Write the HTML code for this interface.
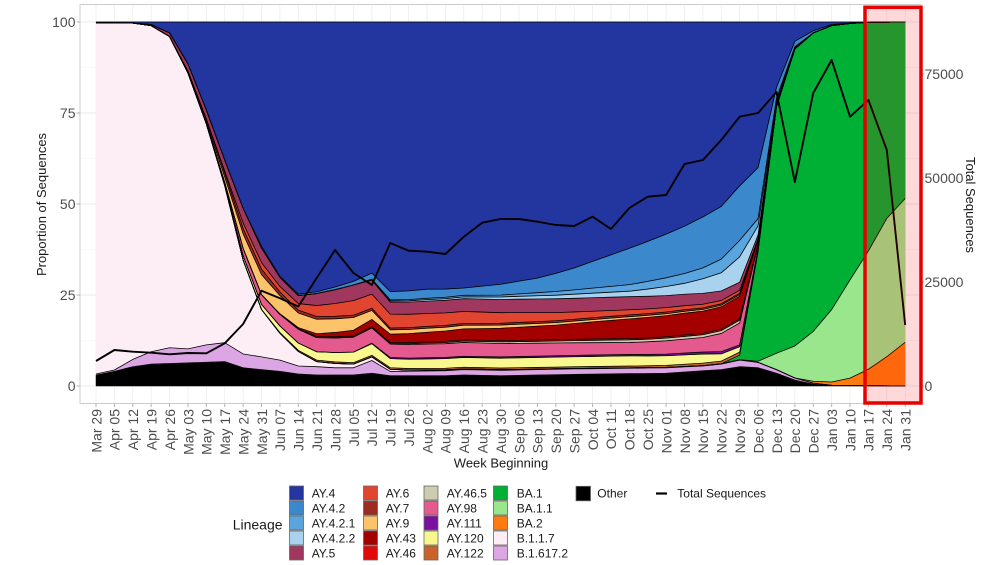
<!DOCTYPE html>
<html>
<head>
<meta charset="utf-8">
<style>
html,body{margin:0;padding:0;background:#fff;}
svg{display:block;font-family:"Liberation Sans",Arial,sans-serif;}
</style>
</head>
<body>
<svg id="c" width="1004" height="565" viewBox="0 0 1004 565" xmlns="http://www.w3.org/2000/svg">
<rect width="1004" height="565" fill="#fff"/>
<g id="grid"></g>
<g id="areas"></g>
<g id="outl" fill="none" stroke="#000" stroke-width="0.8" stroke-linejoin="round"></g>
<polyline id="tot" fill="none" stroke="#000" stroke-width="1.9" stroke-linejoin="round" points=""/>
<rect x="80" y="4.5" width="841" height="399" fill="none" stroke="#cccccc" stroke-width="1"/>
<g id="ticks" stroke="#b3b3b3" stroke-width="1"></g>

<!-- left axis labels -->
<g font-size="14" fill="#4d4d4d" text-anchor="end">
<text x="75.5" y="27">100</text>
<text x="75.5" y="118">75</text>
<text x="75.5" y="209">50</text>
<text x="75.5" y="300">25</text>
<text x="75.5" y="391">0</text>
</g>
<!-- right axis labels -->
<g font-size="14" fill="#4d4d4d">
<text x="924.5" y="79">75000</text>
<text x="924.5" y="183">50000</text>
<text x="924.5" y="287">25000</text>
<text x="924.5" y="391">0</text>
</g>
<!-- titles -->
<text transform="translate(46,204.5) rotate(-90)" text-anchor="middle" font-size="13" fill="#1a1a1a">Proportion of Sequences</text>
<text transform="translate(966,205) rotate(90)" text-anchor="middle" font-size="13" fill="#1a1a1a">Total Sequences</text>
<text x="501" y="467.5" text-anchor="middle" font-size="13" fill="#1a1a1a">Week Beginning</text>

<!-- x labels -->
<g font-size="14" fill="#4d4d4d" text-anchor="end">
<text transform="translate(101.3,409) rotate(-90)">Mar 29</text>
<text transform="translate(119.7,409) rotate(-90)">Apr 05</text>
<text transform="translate(138.1,409) rotate(-90)">Apr 12</text>
<text transform="translate(156.5,409) rotate(-90)">Apr 19</text>
<text transform="translate(174.9,409) rotate(-90)">Apr 26</text>
<text transform="translate(193.3,409) rotate(-90)">May 03</text>
<text transform="translate(211.6,409) rotate(-90)">May 10</text>
<text transform="translate(230.0,409) rotate(-90)">May 17</text>
<text transform="translate(248.4,409) rotate(-90)">May 24</text>
<text transform="translate(266.8,409) rotate(-90)">May 31</text>
<text transform="translate(285.2,409) rotate(-90)">Jun 07</text>
<text transform="translate(303.6,409) rotate(-90)">Jun 14</text>
<text transform="translate(322.0,409) rotate(-90)">Jun 21</text>
<text transform="translate(340.4,409) rotate(-90)">Jun 28</text>
<text transform="translate(358.8,409) rotate(-90)">Jul 05</text>
<text transform="translate(377.2,409) rotate(-90)">Jul 12</text>
<text transform="translate(395.6,409) rotate(-90)">Jul 19</text>
<text transform="translate(413.9,409) rotate(-90)">Jul 26</text>
<text transform="translate(432.3,409) rotate(-90)">Aug 02</text>
<text transform="translate(450.7,409) rotate(-90)">Aug 09</text>
<text transform="translate(469.1,409) rotate(-90)">Aug 16</text>
<text transform="translate(487.5,409) rotate(-90)">Aug 23</text>
<text transform="translate(505.9,409) rotate(-90)">Aug 30</text>
<text transform="translate(524.3,409) rotate(-90)">Sep 06</text>
<text transform="translate(542.7,409) rotate(-90)">Sep 13</text>
<text transform="translate(561.1,409) rotate(-90)">Sep 20</text>
<text transform="translate(579.5,409) rotate(-90)">Sep 27</text>
<text transform="translate(597.9,409) rotate(-90)">Oct 04</text>
<text transform="translate(616.2,409) rotate(-90)">Oct 11</text>
<text transform="translate(634.6,409) rotate(-90)">Oct 18</text>
<text transform="translate(653.0,409) rotate(-90)">Oct 25</text>
<text transform="translate(671.4,409) rotate(-90)">Nov 01</text>
<text transform="translate(689.8,409) rotate(-90)">Nov 08</text>
<text transform="translate(708.2,409) rotate(-90)">Nov 15</text>
<text transform="translate(726.6,409) rotate(-90)">Nov 22</text>
<text transform="translate(745.0,409) rotate(-90)">Nov 29</text>
<text transform="translate(763.4,409) rotate(-90)">Dec 06</text>
<text transform="translate(781.8,409) rotate(-90)">Dec 13</text>
<text transform="translate(800.2,409) rotate(-90)">Dec 20</text>
<text transform="translate(818.5,409) rotate(-90)">Dec 27</text>
<text transform="translate(836.9,409) rotate(-90)">Jan 03</text>
<text transform="translate(855.3,409) rotate(-90)">Jan 10</text>
<text transform="translate(873.7,409) rotate(-90)">Jan 17</text>
<text transform="translate(892.1,409) rotate(-90)">Jan 24</text>
<text transform="translate(910.5,409) rotate(-90)">Jan 31</text>
</g>

<!-- red highlight box -->
<rect x="865" y="7.3" width="56" height="395.7" fill="rgba(255,0,0,0.15)" stroke="#e60000" stroke-width="3.5"/>

<!-- legend -->
<text x="232.7" y="529.7" font-size="14" fill="#1a1a1a">Lineage</text>
<g stroke="#666" stroke-width="0.8">
<rect x="289.5" y="486" width="14" height="14" fill="#2336a0"/>
<rect x="289.5" y="501" width="14" height="14" fill="#3b88cc"/>
<rect x="289.5" y="516" width="14" height="14" fill="#5aa5dd"/>
<rect x="289.5" y="531" width="14" height="14" fill="#a8d2ee"/>
<rect x="289.5" y="546" width="14" height="14" fill="#a0375f"/>
<rect x="363.5" y="486" width="14" height="14" fill="#e2452f"/>
<rect x="363.5" y="501" width="14" height="14" fill="#9c2b22"/>
<rect x="363.5" y="516" width="14" height="14" fill="#fdc36b"/>
<rect x="363.5" y="531" width="14" height="14" fill="#a50000"/>
<rect x="363.5" y="546" width="14" height="14" fill="#e00a0a"/>
<rect x="424" y="486" width="14" height="14" fill="#cfcbb0"/>
<rect x="424" y="501" width="14" height="14" fill="#e45a8e"/>
<rect x="424" y="516" width="14" height="14" fill="#7a0fa0"/>
<rect x="424" y="531" width="14" height="14" fill="#f8f88e"/>
<rect x="424" y="546" width="14" height="14" fill="#c8642a"/>
<rect x="493.5" y="486" width="14" height="14" fill="#00b035"/>
<rect x="493.5" y="501" width="14" height="14" fill="#99e68c"/>
<rect x="493.5" y="516" width="14" height="14" fill="#ff7a10"/>
<rect x="493.5" y="531" width="14" height="14" fill="#fdedf4"/>
<rect x="493.5" y="546" width="14" height="14" fill="#dca5e3"/>
<rect x="576" y="486.3" width="14.5" height="14.5" fill="#000"/>
</g>
<line x1="656" y1="493.5" x2="667" y2="493.5" stroke="#000" stroke-width="2.2"/>
<g font-size="12" fill="#1a1a1a">
<text x="311.7" y="497.3">AY.4</text>
<text x="311.7" y="512.3">AY.4.2</text>
<text x="311.7" y="527.3">AY.4.2.1</text>
<text x="311.7" y="542.3">AY.4.2.2</text>
<text x="311.7" y="557.3">AY.5</text>
<text x="385.7" y="497.3">AY.6</text>
<text x="385.7" y="512.3">AY.7</text>
<text x="385.7" y="527.3">AY.9</text>
<text x="385.7" y="542.3">AY.43</text>
<text x="385.7" y="557.3">AY.46</text>
<text x="446.7" y="497.3">AY.46.5</text>
<text x="446.7" y="512.3">AY.98</text>
<text x="446.7" y="527.3">AY.111</text>
<text x="446.7" y="542.3">AY.120</text>
<text x="446.7" y="557.3">AY.122</text>
<text x="516.7" y="497.3">BA.1</text>
<text x="516.7" y="512.3">BA.1.1</text>
<text x="516.7" y="527.3">BA.2</text>
<text x="516.7" y="542.3">B.1.1.7</text>
<text x="516.7" y="557.3">B.1.617.2</text>
<text x="597.3" y="497.5">Other</text>
<text x="677.3" y="497.5">Total Sequences</text>
</g>
</svg>
<script>
(function(){
const NS="http://www.w3.org/2000/svg";
const N=45, X0=96, DX=809.2/44, Y0=386, SY=3.64;
const X=i=>X0+i*DX, Y=p=>Y0-p*SY;
function el(tag,attrs,parent){const e=document.createElementNS(NS,tag);for(const k in attrs)e.setAttribute(k,attrs[k]);parent.appendChild(e);return e;}
function kf(p){const a=new Array(N).fill(0);
 for(let i=0;i<N;i++){
  if(i<=p[0][0]){a[i]=p[0][1];continue;}
  if(i>=p[p.length-1][0]){a[i]=p[p.length-1][1];continue;}
  for(let k=0;k<p.length-1;k++){const i0=p[k][0],v0=p[k][1],i1=p[k+1][0],v1=p[k+1][1];
   if(i>=i0&&i<=i1){a[i]=v0+(v1-v0)*(i-i0)/(i1-i0);break;}}
 }
 return a;}

// grid
const grid=document.getElementById('grid');
[12.5,37.5,62.5,87.5].forEach(p=>el('line',{x1:80,x2:921,y1:Y(p),y2:Y(p),stroke:'#f2f2f2','stroke-width':0.6},grid));
[0,25,50,75,100].forEach(p=>el('line',{x1:80,x2:921,y1:Y(p),y2:Y(p),stroke:'#e3e3e3','stroke-width':0.8},grid));
for(let i=0;i<N;i++){el('line',{x1:X(i),x2:X(i),y1:4.5,y2:403.5,stroke:'#ebebeb','stroke-width':0.7},grid);}
// ticks
const tk=document.getElementById('ticks');
for(let i=0;i<N;i++){el('line',{x1:X(i),x2:X(i),y1:403.5,y2:407},tk);}
[0,25,50,75,100].forEach(p=>el('line',{x1:76.5,x2:80,y1:Y(p),y2:Y(p)},tk));
[0,25000,50000,75000].forEach(v=>{const y=386-v*104/25000;el('line',{x1:921,x2:924,y1:y,y2:y},tk);});

// data
const black=kf([[0,3],[1,4],[2,5.3],[3,6],[7,6.7],[8,5],[9,4.5],[10,4],[11,3.3],[12,3],[14,3],[15,3.5],[16,2.8],[19,2.8],[20,3],[22,2.8],[26,3.2],[31,3.5],[34,4.5],[35,5.3],[36,5],[37,3.5],[38,1.6],[39,0.5],[40,0.1],[44,0]]);
const lilTop=kf([[0,3.3],[1,4.4],[2,7.3],[3,9.4],[4,10.5],[5,10.2],[6,11.3],[7,11.9],[8,8.8],[9,8],[10,7.1],[11,5.5],[12,5.3],[13,5],[14,5],[15,7],[16,4],[19,4.2],[20,4.5],[22,4.3],[26,4.7],[31,5],[33,5.5],[34,6],[35,7.1],[36,6.5],[37,4.5],[38,2.2],[39,0.8],[40,0.2],[44,0]]);
const lil=lilTop.map((v,i)=>Math.max(0,v-black[i]));
const b117=kf([[0,96.5],[1,95.4],[2,92.4],[3,89.6],[4,85.5],[5,75.8],[6,60.7],[7,43.1],[8,25.8],[9,13],[10,7.4],[11,4],[12,1.4],[13,1.2],[14,1],[15,1],[16,0.6],[17,0.3],[20,0.2],[26,0.1],[35,0.1],[36,0]]);
const ba2=kf([[0,0],[38,0],[39,0.5],[40,0.9],[41,2],[42,4.5],[43,8],[44,12]]);
const ba11=kf([[0,0],[35,0],[36,0.3],[37,4.5],[38,8.8],[39,13.7],[40,19.9],[41,27],[42,32.5],[43,38],[44,39.5]]);
const ay122=kf([[0,0],[9,0],[10,0.2],[12,0.4],[30,0.5],[35,0.8],[36,0.2],[37,0]]);
const ay120=kf([[0,0],[6,0],[7,0.4],[8,1.2],[9,1.4],[10,1.8],[11,2],[13,2.6],[15,3.2],[16,2.5],[20,2.7],[29,2.8],[33,2.5],[35,1.5],[36,0.4],[37,0.1],[38,0]]);
const ay111=kf([[0,0],[14,0],[16,0.3],[30,0.4],[34,0.6],[35,0.5],[36,0.15],[37,0]]);
const ay98=kf([[0,0],[6,0],[7,0.5],[8,2],[9,2.7],[10,3.2],[11,3.8],[13,4],[15,4.2],[16,3.7],[20,3.8],[25,3.5],[29,3.3],[33,4],[34,5],[35,6],[36,1],[37,0.3],[38,0]]);
const ay465=kf([[0,0],[15,0],[18,0.3],[29,0.7],[35,0.8],[36,0.15],[37,0]]);
const ay46=kf([[0,0],[10,0],[12,0.3],[35,0.4],[36,0.15],[37,0]]);
const ay43=kf([[0,0],[9,0],[11,0.3],[13,1.2],[15,2],[16,2.3],[20,3],[25,4],[29,5.4],[32,6],[35,6.2],[36,1],[37,0.3],[38,0]]);
const ay9=kf([[0,0],[5,0],[6,0.5],[7,1.5],[8,4],[9,5.5],[10,5],[11,4],[12,4],[14,3.5],[15,2.5],[16,1.2],[20,1],[25,0.7],[29,0.6],[35,0.4],[36,0.15],[37,0]]);
const ay7=kf([[0,0],[4,0],[5,0.5],[8,1.5],[9,1.5],[10,1],[11,0.8],[13,0.7],[16,0.5],[29,0.5],[35,0.4],[36,0.15],[37,0]]);
const ay6=kf([[0,0],[6,0],[7,0.5],[8,1.5],[9,1.8],[10,1.5],[11,1.8],[12,3],[14,4],[16,3.8],[20,3.3],[23,2.7],[26,2],[29,1.4],[33,1],[35,0.8],[36,0.2],[37,0]]);
const ay5=kf([[0,0],[2,0],[3,0.3],[4,1],[5,2],[6,2.5],[7,3],[8,4],[9,4],[10,2.5],[11,2.2],[12,3.3],[14,4.3],[16,3.3],[20,3.5],[25,3.8],[29,3.6],[33,3],[35,2.2],[36,1],[37,0.3],[38,0]]);
const ay422=kf([[0,0],[14,0],[16,0.3],[20,0.5],[25,1],[29,1.5],[32,3],[34,5],[35,7],[36,2.5],[37,0.7],[38,0.3],[39,0]]);
const ay421=kf([[0,0],[14,0],[16,0.3],[22,0.5],[25,1],[29,1.8],[33,3],[35,4.5],[36,2],[37,0.7],[38,0.3],[39,0]]);
const ay42=kf([[0,0],[8,0],[9,0.5],[10,0.3],[12,0.5],[14,1],[16,2.3],[18,2.5],[20,2],[22,3],[24,4],[26,6],[29,10],[31,12],[33,14],[35,15],[36,14],[37,3],[38,1.5],[39,0.6],[40,0.3],[41,0.1],[42,0]]);
const ay4late=kf([[0,45],[35,45],[36,40],[37,18],[38,5.3],[39,2.4],[40,0.7],[41,0.3],[42,0.1],[43,0.05],[44,0]]);
const ba1=new Array(N).fill(0), ay4=new Array(N).fill(0);

const L=[
 ['#000000',black],['#dca5e3',lil],['#fdedf4',b117],['#ff7a10',ba2],['#99e68c',ba11],['#00b035',ba1],
 ['#c8642a',ay122],['#f8f88e',ay120],['#7a0fa0',ay111],['#e45a8e',ay98],['#cfcbb0',ay465],['#e00a0a',ay46],
 ['#a50000',ay43],['#fdc36b',ay9],['#9c2b22',ay7],['#e2452f',ay6],['#a0375f',ay5],['#a8d2ee',ay422],
 ['#5aa5dd',ay421],['#3b88cc',ay42],['#2336a0',ay4]
];
for(let i=0;i<N;i++){
 let s=0; L.forEach(l=>{if(l[1]!==ba1&&l[1]!==ay4)s+=l[1][i];});
 if(i<35){ba1[i]=0;ay4[i]=Math.max(0,100-s);}
 else{ay4[i]=ay4late[i];ba1[i]=Math.max(0,100-s-ay4[i]);}
 let t=0; L.forEach(l=>t+=l[1][i]);
 if(t>0){L.forEach(l=>l[1][i]=l[1][i]*100/t);}
}
const areas=document.getElementById('areas'), outl=document.getElementById('outl');
let cum=new Array(N).fill(0);
const xs=[];for(let i=0;i<N;i++)xs.push(X(i));
const uppers=[];
L.forEach(l=>{
 const lower=cum.slice(); const upper=cum.map((v,i)=>v+l[1][i]);
 let p=[];
 for(let i=0;i<N;i++)p.push(xs[i].toFixed(2)+','+Y(upper[i]).toFixed(2));
 for(let i=N-1;i>=0;i--)p.push(xs[i].toFixed(2)+','+Y(lower[i]).toFixed(2));
 el('polygon',{points:p.join(' '),fill:l[0],stroke:l[0],'stroke-width':0.5,'stroke-linejoin':'round'},areas);
 uppers.push(upper); cum=upper;
});
uppers.forEach(u=>{
 const p=[];for(let i=0;i<N;i++)p.push(xs[i].toFixed(2)+','+Y(u[i]).toFixed(2));
 el('polyline',{points:p.join(' ')},outl);
});
// total sequences line (pixel y)
const ty=[361,350,351.7,352.7,354.3,353,353.3,343.3,324,290.7,298.3,306.5,278,250,273,285,243,250.7,251.7,254,236.7,222.7,219,219,221.7,225,226,216.7,229,208,196.7,195,164,160,140,116.7,113,92,182,93,60,116.7,100,150,325];
const tp=[];for(let i=0;i<N;i++)tp.push(xs[i].toFixed(2)+','+ty[i].toFixed(2));
document.getElementById('tot').setAttribute('points',tp.join(' '));
})();
</script>
</body>
</html>
